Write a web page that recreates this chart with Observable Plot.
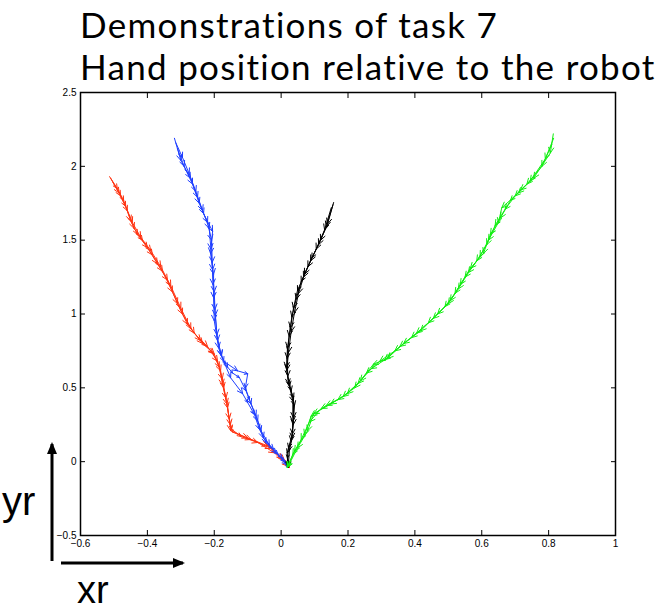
<!DOCTYPE html>
<html>
<head>
<meta charset="utf-8">
<script src="https://cdn.jsdelivr.net/npm/d3@7"></script>
<script src="https://cdn.jsdelivr.net/npm/@observablehq/plot@0.6"></script>
<style>
  html, body { margin: 0; padding: 0; background: #fff; }
  #wrap { position: relative; width: 661px; height: 612px; overflow: hidden; }
  #chart { position: absolute; left: 0; top: 0; }
  .title { position: absolute; font-family: Lato, "Open Sans", sans-serif; font-size: 35px; line-height: 42px; letter-spacing: 1.3px; color: #000; white-space: nowrap; }
  .axlab { position: absolute; font-family: "Liberation Sans", Arial, sans-serif; line-height: 0.8; color: #000; }
</style>
</head>
<body>
<div id="wrap">
  <div id="chart"></div>
  <div class="title" id="title" style="left:80px; top:3px;">Demonstrations of task 7<br>Hand position relative to the robot</div>
  <div class="axlab" style="left:2px; top:485px; font-size:40px;">yr</div>
  <div class="axlab" style="left:77px; top:575px; font-size:38px;">xr</div>
  <svg style="position:absolute; left:0; top:0;" width="661" height="612">
    <defs>
      <marker id="ah" markerWidth="12" markerHeight="10" refX="10" refY="5" orient="auto" markerUnits="userSpaceOnUse">
        <path d="M0,0 L12,5 L0,10 z" fill="#000"/>
      </marker>
    </defs>
    <line x1="52" y1="561" x2="52" y2="444" stroke="#000" stroke-width="3" marker-end="url(#ah)"/>
    <line x1="61" y1="563" x2="183" y2="563" stroke="#000" stroke-width="3" marker-end="url(#ah)"/>
  </svg>
</div>
<script>
// Axis ticks
const xTicks = [-0.6, -0.4, -0.2, 0, 0.2, 0.4, 0.6, 0.8, 1];
const yTicks = [-0.5, 0, 0.5, 1, 1.5, 2, 2.5];

// Trajectories [xr, yr], three demonstrations per colour
const red1 = [[-0.513,1.93],[-0.49,1.85],[-0.471,1.77],[-0.45,1.63],[-0.43,1.54],[-0.40,1.45],[-0.37,1.34],[-0.34,1.23],[-0.31,1.07],[-0.28,0.93],[-0.241,0.82],[-0.20,0.73],[-0.181,0.615],[-0.172,0.50],[-0.16,0.364],[-0.151,0.21],[-0.10,0.16],[-0.04,0.107],[0.004,0.019],[0.022,-0.035]];
const red2 = [[-0.505,1.90],[-0.48,1.80],[-0.46,1.70],[-0.44,1.58],[-0.415,1.50],[-0.385,1.40],[-0.355,1.29],[-0.325,1.15],[-0.295,1.00],[-0.26,0.87],[-0.22,0.78],[-0.19,0.68],[-0.176,0.56],[-0.165,0.43],[-0.155,0.29],[-0.148,0.22],[-0.12,0.17],[-0.07,0.13],[-0.02,0.06],[0.02,-0.03]];
const red3 = [[-0.51,1.92],[-0.485,1.82],[-0.465,1.73],[-0.445,1.62],[-0.42,1.52],[-0.39,1.43],[-0.36,1.32],[-0.33,1.19],[-0.30,1.04],[-0.27,0.90],[-0.235,0.80],[-0.205,0.74],[-0.185,0.64],[-0.175,0.52],[-0.162,0.39],[-0.152,0.25],[-0.145,0.20],[-0.09,0.15],[-0.03,0.09],[0.01,0.01],[0.025,-0.04]];
const blue1 = [[-0.319,2.19],[-0.30,2.04],[-0.271,1.92],[-0.25,1.79],[-0.232,1.68],[-0.205,1.56],[-0.211,1.41],[-0.202,1.27],[-0.202,1.11],[-0.20,0.955],[-0.187,0.77],[-0.172,0.68],[-0.13,0.615],[-0.10,0.595],[-0.107,0.50],[-0.09,0.39],[-0.07,0.276],[-0.053,0.16],[-0.023,0.086],[0.004,0.025],[0.02,-0.03]];
const blue2 = [[-0.31,2.12],[-0.29,2.00],[-0.265,1.88],[-0.245,1.75],[-0.22,1.62],[-0.208,1.50],[-0.206,1.35],[-0.204,1.20],[-0.198,1.03],[-0.192,0.86],[-0.18,0.72],[-0.16,0.64],[-0.145,0.60],[-0.125,0.57],[-0.105,0.48],[-0.095,0.42],[-0.075,0.31],[-0.06,0.21],[-0.035,0.11],[-0.01,0.05],[0.015,-0.02]];
const blue3 = [[-0.315,2.16],[-0.295,2.06],[-0.275,1.95],[-0.255,1.83],[-0.235,1.70],[-0.215,1.58],[-0.21,1.44],[-0.205,1.30],[-0.20,1.15],[-0.197,0.99],[-0.19,0.82],[-0.178,0.72],[-0.168,0.66],[-0.151,0.568],[-0.115,0.46],[-0.10,0.40],[-0.08,0.32],[-0.065,0.22],[-0.045,0.13],[-0.015,0.06],[0.01,0.0],[0.02,-0.04]];
const black1 = [[0.157,1.755],[0.139,1.61],[0.118,1.50],[0.088,1.36],[0.067,1.25],[0.049,1.16],[0.037,1.04],[0.028,0.907],[0.019,0.77],[0.016,0.636],[0.022,0.527],[0.037,0.432],[0.037,0.296],[0.034,0.188],[0.022,0.093],[0.019,0.025],[0.022,-0.04]];
const black2 = [[0.15,1.72],[0.13,1.57],[0.105,1.44],[0.08,1.32],[0.06,1.22],[0.045,1.10],[0.032,0.98],[0.024,0.85],[0.018,0.70],[0.02,0.58],[0.03,0.48],[0.04,0.38],[0.036,0.25],[0.03,0.14],[0.018,0.06],[0.02,-0.03]];
const black3 = [[0.155,1.74],[0.135,1.59],[0.112,1.47],[0.092,1.38],[0.07,1.27],[0.052,1.14],[0.04,1.01],[0.03,0.88],[0.022,0.74],[0.017,0.62],[0.025,0.51],[0.035,0.41],[0.035,0.27],[0.033,0.16],[0.025,0.08],[0.021,-0.035]];
const green1 = [[0.814,2.22],[0.805,2.09],[0.755,1.92],[0.716,1.84],[0.686,1.77],[0.656,1.65],[0.626,1.54],[0.605,1.41],[0.566,1.31],[0.536,1.20],[0.506,1.09],[0.468,1.0],[0.417,0.886],[0.366,0.80],[0.318,0.70],[0.276,0.66],[0.237,0.547],[0.198,0.46],[0.148,0.39],[0.097,0.324],[0.079,0.208],[0.049,0.093],[0.019,-0.04]];
const green2 = [[0.81,2.15],[0.78,2.00],[0.735,1.88],[0.70,1.80],[0.67,1.71],[0.64,1.60],[0.615,1.47],[0.585,1.36],[0.55,1.25],[0.52,1.14],[0.49,1.05],[0.44,0.94],[0.39,0.84],[0.34,0.75],[0.295,0.68],[0.255,0.60],[0.22,0.50],[0.17,0.42],[0.12,0.36],[0.085,0.27],[0.06,0.15],[0.035,0.05],[0.02,-0.03]];
const green3 = [[0.815,2.19],[0.79,2.05],[0.745,1.90],[0.71,1.82],[0.66,1.72],[0.65,1.62],[0.62,1.50],[0.595,1.39],[0.56,1.28],[0.53,1.17],[0.50,1.07],[0.455,0.97],[0.405,0.87],[0.355,0.78],[0.31,0.69],[0.27,0.63],[0.23,0.53],[0.185,0.44],[0.135,0.38],[0.09,0.31],[0.07,0.18],[0.04,0.07],[0.018,-0.04]];

const demos = [
  {pts: red1, c: "#ff3311"}, {pts: red2, c: "#ff3311"}, {pts: red3, c: "#ff3311"},
  {pts: blue1, c: "#1f3fff"}, {pts: blue2, c: "#1f3fff"}, {pts: blue3, c: "#1f3fff"},
  {pts: black1, c: "#000000"}, {pts: black2, c: "#000000"}, {pts: black3, c: "#000000"},
  {pts: green1, c: "#11ee11"}, {pts: green2, c: "#11ee11"}, {pts: green3, c: "#11ee11"}
];
const segs = [];
for (const d of demos) {
  for (let i = 0; i + 1 < d.pts.length; i++) {
    segs.push({x1: d.pts[i][0], y1: d.pts[i][1], x2: d.pts[i+1][0], y2: d.pts[i+1][1], c: d.c});
  }
}

const fmt = d => String(d).replace("-", "\u2212");
const chart = Plot.plot({
  width: 661,
  height: 612,
  marginLeft: 80,
  marginRight: 46,
  marginTop: 92,
  marginBottom: 77,
  x: {domain: [-0.6, 1]},
  y: {domain: [-0.5, 2.5]},
  color: {type: "identity"},
  style: {fontFamily: "'Liberation Sans', Arial, sans-serif", fontSize: "10px", color: "#000", background: "transparent"},
  marks: [
    Plot.arrow(segs, {x1: "x1", y1: "y1", x2: "x2", y2: "y2", stroke: "c", strokeWidth: 1, headLength: 9, headAngle: 50}),
    Plot.frame({stroke: "#000", strokeWidth: 1.5}),
    Plot.axisX(xTicks, {anchor: "bottom", tickSize: -5, tickPadding: 9, label: null, tickFormat: fmt}),
    Plot.axisX(xTicks, {anchor: "top", tickSize: -5, label: null, tickFormat: () => ""}),
    Plot.axisY(yTicks, {anchor: "left", tickSize: -5, tickPadding: 9, label: null, tickFormat: fmt}),
    Plot.axisY(yTicks, {anchor: "right", tickSize: -5, label: null, tickFormat: () => ""})
  ]
});
document.getElementById("chart").appendChild(chart);
</script>
</body>
</html>
